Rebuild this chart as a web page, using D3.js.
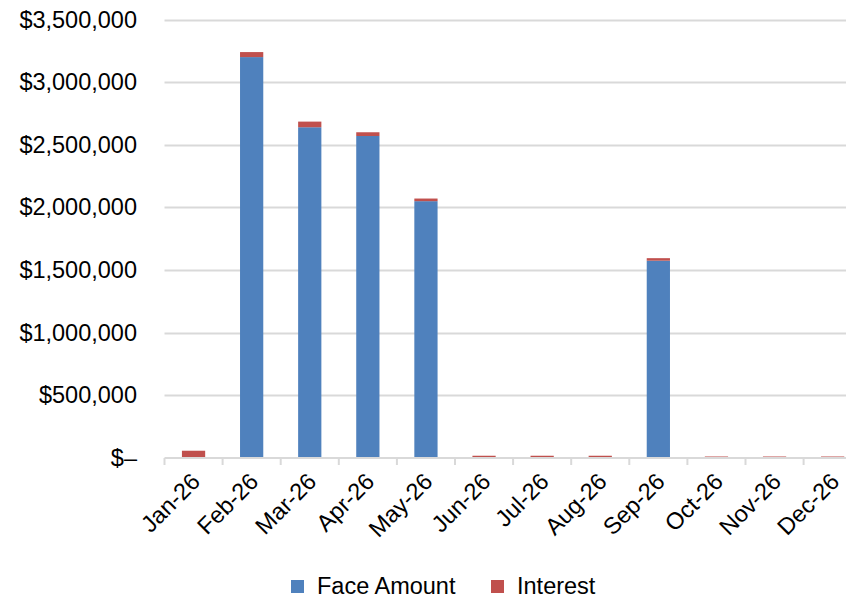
<!DOCTYPE html>
<html>
<head>
<meta charset="utf-8">
<script src="https://cdn.jsdelivr.net/npm/d3@7"></script>
<style>
  html, body { margin: 0; padding: 0; background: #fff; }
  svg { display: block; font-family: "Liberation Sans", Arial, sans-serif; }
</style>
</head>
<body>
<svg id="chart" width="846" height="598"></svg>
<script>
// Monthly payment schedule: principal (face amount) and interest
const months = ["Jan-26", "Feb-26", "Mar-26", "Apr-26", "May-26", "Jun-26",
                "Jul-26", "Aug-26", "Sep-26", "Oct-26", "Nov-26", "Dec-26"];
const faceAmount = [0, 3200000, 2640000, 2570000, 2050000, 0, 0, 0, 1575000, 0, 0, 0];
const interest   = [58000, 40000, 45000, 30000, 21000, 18000, 18000, 18000, 20000, 12000, 12000, 12000];
const yTicks = [0, 500000, 1000000, 1500000, 2000000, 2500000, 3000000, 3500000];
const seriesNames = ["Face Amount", "Interest"];
const colors = ["#4F81BD", "#C0504D"];

const FONT = 23.5;
const svg = d3.select("#chart");
const plot = { left: 164.5, right: 861.7, top: 19.5, bottom: 458 };

const x = d3.scaleBand().domain(months).range([plot.left, plot.right])
  .paddingInner(0.6).paddingOuter(0.3);
const xBand = d3.scaleBand().domain(months).range([plot.left, plot.right]);
const y = d3.scaleLinear().domain([0, 3500000]).range([plot.bottom, plot.top]);

const fmt = v => v === 0 ? "$\u2013" : "$" + d3.format(",")(v);

// horizontal gridlines
svg.append("g").selectAll("line").data(yTicks.filter(d => d > 0)).join("line")
  .attr("x1", plot.left).attr("x2", plot.right)
  .attr("y1", d => Math.round(y(d)) + 0.5).attr("y2", d => Math.round(y(d)) + 0.5)
  .attr("stroke", "#d9d9d9").attr("stroke-width", 2);

// y-axis labels
const yAxis = d3.axisLeft(y).tickValues(yTicks).tickFormat(fmt).tickSize(0).tickPadding(0);
const gy = svg.append("g").attr("transform", `translate(137,0)`).call(yAxis);
gy.select(".domain").remove();
gy.selectAll("text").attr("font-size", FONT).attr("fill", "#000")
  .attr("font-family", "Liberation Sans, Arial, sans-serif");

// stacked bars
const stackData = months.map((m, i) => ({ month: m, face: faceAmount[i], interest: interest[i] }));
const stacked = d3.stack().keys(["face", "interest"])(stackData);
svg.append("g").selectAll("g").data(stacked).join("g")
  .attr("fill", (d, i) => colors[i])
  .selectAll("rect").data(d => d).join("rect")
  .attr("x", d => x(d.data.month))
  .attr("width", x.bandwidth())
  .attr("y", d => y(d[1]))
  .attr("height", d => Math.max(0, y(d[0]) - y(d[1])));

// x axis with boundary ticks
const gx = svg.append("g").attr("transform", `translate(0,${plot.bottom})`);
gx.append("line").attr("x1", plot.left).attr("x2", plot.right)
  .attr("y1", 0).attr("y2", 0).attr("stroke", "#d9d9d9").attr("stroke-width", 2);
gx.selectAll("line.tick").data(months.concat(["end"])).join("line")
  .attr("class", "tick")
  .attr("x1", (d, i) => plot.left + i * xBand.step())
  .attr("x2", (d, i) => plot.left + i * xBand.step())
  .attr("y1", 0).attr("y2", 7)
  .attr("stroke", "#d9d9d9").attr("stroke-width", 2);
gx.selectAll("text").data(months).join("text")
  .attr("transform", d => `translate(${xBand(d) + xBand.bandwidth() / 2 + 8},${25}) rotate(-45)`)
  .attr("text-anchor", "end")
  .attr("font-size", FONT).attr("fill", "#000")
  .text(d => d);

// legend
const legend = svg.append("g");
const legendItems = [{ name: seriesNames[0], x: 291 }, { name: seriesNames[1], x: 491 }];
legendItems.forEach((it, i) => {
  legend.append("rect").attr("x", it.x).attr("y", 580).attr("width", 13).attr("height", 13)
    .attr("fill", colors[i]);
  legend.append("text").attr("x", it.x + 26).attr("y", 594)
    .attr("font-size", FONT).attr("fill", "#000").text(it.name);
});
</script>
</body>
</html>
